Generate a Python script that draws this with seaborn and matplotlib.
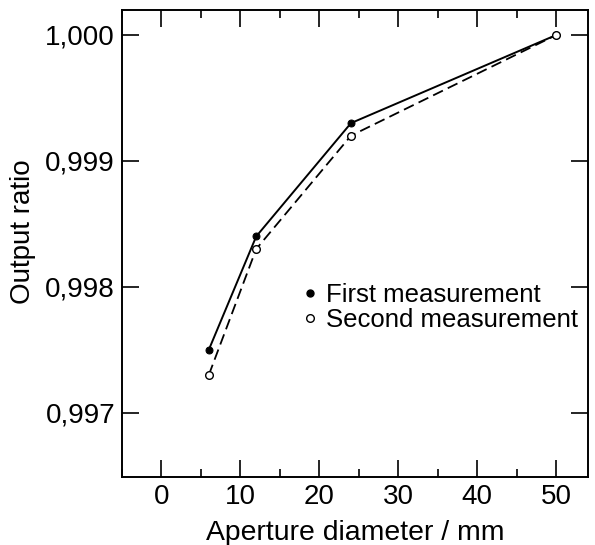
import matplotlib
matplotlib.use('Agg')
import matplotlib.pyplot as plt
from matplotlib.lines import Line2D
from matplotlib.ticker import FuncFormatter, MultipleLocator
import seaborn as sns
import pandas as pd

# data
aperture = [6, 12, 24, 50]
first_meas = [0.9975, 0.9984, 0.9993, 1.0000]
second_meas = [0.9973, 0.9983, 0.9992, 1.0000]

sns.set_style('ticks')
plt.rcParams['font.family'] = ['Liberation Sans', 'DejaVu Sans']
plt.rcParams['text.color'] = 'black'
plt.rcParams['axes.labelcolor'] = 'black'

df = pd.DataFrame({'d': aperture, 'first': first_meas, 'second': second_meas})

fig = plt.figure(figsize=(5.95, 5.45), dpi=100)
ax = fig.add_axes([0.205, 0.125, 0.783, 0.857])

sns.lineplot(data=df, x='d', y='first', ax=ax, color='black', lw=1.4,
             marker='o', markersize=5, markerfacecolor='black', markeredgecolor='black')
sns.lineplot(data=df, x='d', y='second', ax=ax, color='black', lw=1.3,
             linestyle=(0, (6, 3)), marker='o', markersize=5.5,
             markerfacecolor='white', markeredgecolor='black', markeredgewidth=1)

ax.set_xlim(-5, 54)
ax.set_ylim(0.99649, 1.0002)
ax.xaxis.set_major_locator(MultipleLocator(10))
ax.xaxis.set_minor_locator(MultipleLocator(5))
ax.set_yticks([0.997, 0.998, 0.999, 1.000])
ax.yaxis.set_major_formatter(FuncFormatter(lambda v, p: f'{v:.3f}'.replace('.', ',')))

ax.tick_params(which='both', direction='in', top=True, right=True, width=1.2,
               colors='black', labelcolor='black')
ax.tick_params(which='major', length=12, labelsize=20, pad=5)
ax.tick_params(which='minor', length=6)
for s in ax.spines.values():
    s.set_linewidth(1.4)
    s.set_color('black')

ax.set_xlabel('Aperture diameter / mm', fontsize=20.4, labelpad=7)
ax.set_ylabel('Output ratio', fontsize=20)
ax.yaxis.set_label_coords(-0.185, 0.525)

handles = [
    Line2D([], [], ls='none', marker='o', markersize=5, color='black'),
    Line2D([], [], ls='none', marker='o', markersize=5.5, markerfacecolor='white', markeredgecolor='black'),
]
ax.legend(handles, ['First measurement', 'Second measurement'], loc='center left',
          bbox_to_anchor=(0.39, 0.362), frameon=False, fontsize=18.5,
          handlelength=0.5, handletextpad=0.35, labelspacing=0.05, borderaxespad=0,
          borderpad=0)

fig.savefig('out.png', dpi=100)
